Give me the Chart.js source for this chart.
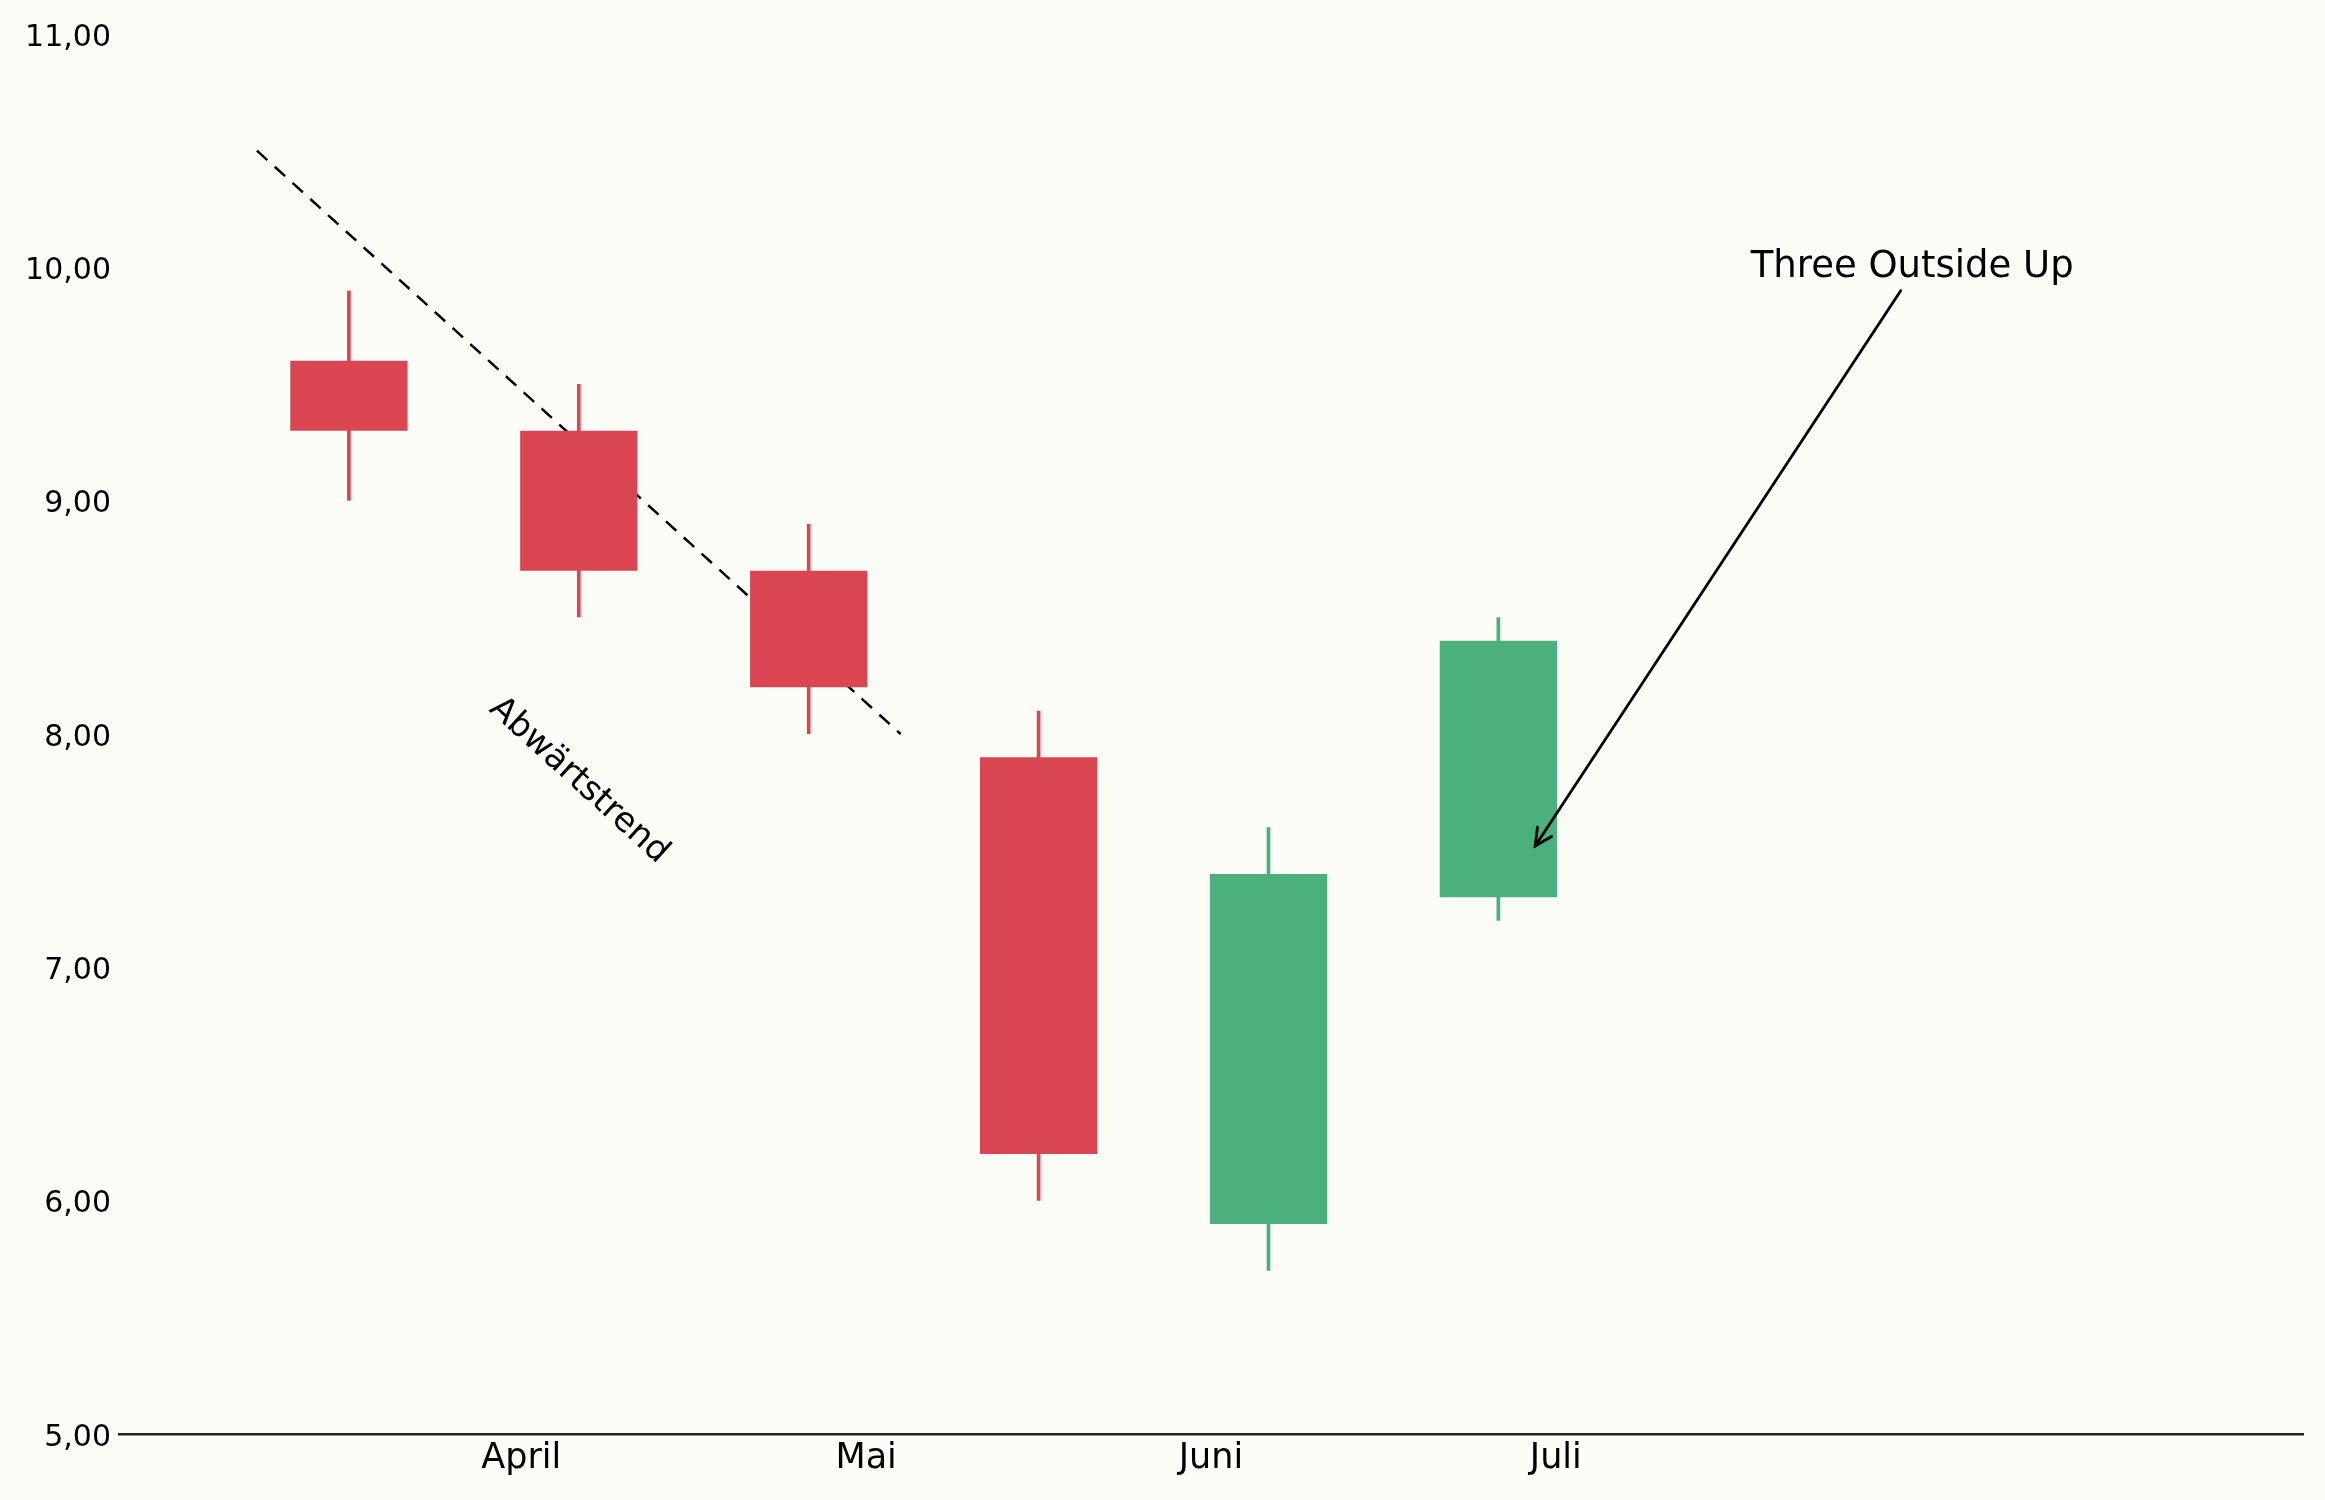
<!DOCTYPE html>
<html>
<head>
<meta charset="utf-8">
<script src="https://cdn.jsdelivr.net/npm/chart.js@4"></script>
<style>
    html, body { margin: 0; padding: 0; background: #fdfdf8; }
    canvas { display: block; }
</style>
</head>
<body>
<canvas id="chartCandles" width="2325" height="1500"></canvas>
<script>
// days counted from 1 April
const candleDays = [-15, 5, 25, 45, 65, 85];
const openValues = [9.6, 9.3, 8.7, 7.9, 5.9, 7.3];
const highValues = [9.9, 9.5, 8.9, 8.1, 7.6, 8.5];
const lowValues = [9.0, 8.5, 8.0, 6.0, 5.7, 7.2];
const closeValues = [9.3, 8.7, 8.2, 6.2, 7.4, 8.4];

const monthTicks = [0, 30, 60, 90];
const monthLabels = ['April', 'Mai', 'Juni', 'Juli'];

const trendX = [-23, 33];
const trendY = [10.5, 8.0];
const trendLabel = { text: 'Abwärtstrend', x: 5, y: 7.8 };

const patternLabel = { text: 'Three Outside Up', x: 121, y: 10.0 };
const arrowFrom = [120, 9.9];
const arrowTo = [88.2, 7.52];

const BG = '#fdfdf8';
const RED = '#d94652';
const GREEN = '#4caf7e';
const FONT = '"DejaVu Sans", "Liberation Sans", sans-serif';

const candleColor = (ctx) => closeValues[ctx.dataIndex] >= openValues[ctx.dataIndex] ? GREEN : RED;

const backgroundPlugin = {
    id: 'background',
    beforeDraw(chart) {
        const c = chart.ctx;
        c.save();
        c.fillStyle = BG;
        c.fillRect(0, 0, chart.width, chart.height);
        c.restore();
    },
};

const annotationPlugin = {
    id: 'annotations',
    afterDatasetsDraw(chart) {
        const c = chart.ctx;
        const xs = chart.scales.x;
        const ys = chart.scales.y;
        c.save();

        // rotated trend label, same angle as the dashed line
        const x0 = xs.getPixelForValue(trendX[0]);
        const y0 = ys.getPixelForValue(trendY[0]);
        const x1 = xs.getPixelForValue(trendX[1]);
        const y1 = ys.getPixelForValue(trendY[1]);
        const angle = Math.atan2(y1 - y0, x1 - x0);
        c.translate(xs.getPixelForValue(trendLabel.x), ys.getPixelForValue(trendLabel.y));
        c.rotate(angle);
        c.font = '34px ' + FONT;
        c.fillStyle = '#000';
        c.textAlign = 'center';
        c.textBaseline = 'middle';
        c.fillText(trendLabel.text, 0, 0);
        c.setTransform(1, 0, 0, 1, 0, 0);

        // pattern label
        c.font = '37px ' + FONT;
        c.fillText(patternLabel.text, xs.getPixelForValue(patternLabel.x), ys.getPixelForValue(patternLabel.y));

        // arrow
        const ax0 = xs.getPixelForValue(arrowFrom[0]);
        const ay0 = ys.getPixelForValue(arrowFrom[1]);
        const ax1 = xs.getPixelForValue(arrowTo[0]);
        const ay1 = ys.getPixelForValue(arrowTo[1]);
        const dir = Math.atan2(ay1 - ay0, ax1 - ax0);
        const headLen = 19;
        const headAng = 0.46;
        c.strokeStyle = '#000';
        c.lineWidth = 2.8;
        c.lineCap = 'round';
        c.beginPath();
        c.moveTo(ax0, ay0);
        c.lineTo(ax1, ay1);
        c.moveTo(ax1 - headLen * Math.cos(dir - headAng), ay1 - headLen * Math.sin(dir - headAng));
        c.lineTo(ax1, ay1);
        c.lineTo(ax1 - headLen * Math.cos(dir + headAng), ay1 - headLen * Math.sin(dir + headAng));
        c.stroke();
        c.restore();
    },
};

const chart = new Chart(document.getElementById('chartCandles'), {
    type: 'bar',
    data: {
        datasets: [
            {
                label: 'Körper',
                data: candleDays.map((d, i) => ({ x: d, y: [openValues[i], closeValues[i]] })),
                backgroundColor: candleColor,
                borderWidth: 0,
                borderSkipped: false,
                grouped: false,
                categoryPercentage: 1,
                barPercentage: 0.51,
            },
            {
                label: 'Docht',
                data: candleDays.map((d, i) => ({ x: d, y: [lowValues[i], highValues[i]] })),
                backgroundColor: candleColor,
                borderWidth: 0,
                borderSkipped: false,
                grouped: false,
                categoryPercentage: 1,
                barPercentage: 0.016,
            },
            {
                type: 'line',
                label: 'Trend',
                data: trendX.map((x, i) => ({ x: x, y: trendY[i] })),
                borderColor: '#000',
                borderWidth: 2.5,
                borderDash: [14, 10],
                pointRadius: 0,
                fill: false,
            },
        ],
    },
    options: {
        responsive: false,
        devicePixelRatio: 1,
        animation: false,
        layout: {
            padding: { top: 34, right: 22, left: 0, bottom: 0 },
        },
        plugins: {
            legend: { display: false },
            tooltip: { enabled: false },
        },
        scales: {
            x: {
                type: 'linear',
                min: -35,
                max: 155,
                offset: false,
                grid: { display: false, drawTicks: false },
                border: { display: true, color: '#222', width: 2.5 },
                afterBuildTicks(scale) {
                    scale.ticks = monthTicks.map((v) => ({ value: v }));
                },
                afterFit(scale) {
                    scale.height = 66;
                },
                ticks: {
                    padding: 4,
                    maxRotation: 0,
                    autoSkip: false,
                    color: '#000',
                    font: { family: FONT, size: 35 },
                    callback: (value) => monthLabels[monthTicks.indexOf(value)],
                },
            },
            y: {
                min: 5,
                max: 11,
                grid: { display: false, drawTicks: false },
                border: { display: false },
                afterFit(scale) {
                    scale.width = 119;
                },
                ticks: {
                    stepSize: 1,
                    padding: 8,
                    labelOffset: 4,
                    color: '#000',
                    font: { family: FONT, size: 30 },
                    callback: (value) => value.toFixed(2).replace('.', ','),
                },
            },
        },
    },
    plugins: [backgroundPlugin, annotationPlugin],
});
</script>
</body>
</html>
